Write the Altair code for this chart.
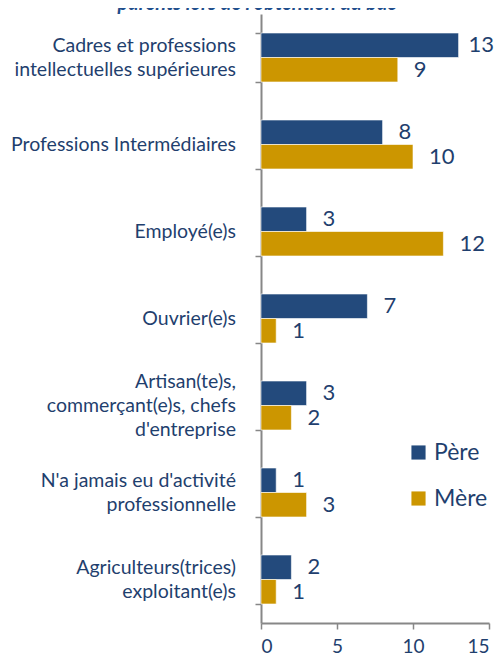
import altair as alt
import pandas as pd

categories = [
    "Cadres et professions|intellectuelles supérieures",
    "Professions Intermédiaires",
    "Employé(e)s",
    "Ouvrier(e)s",
    "Artisan(te)s,|commerçant(e)s, chefs|d'entreprise",
    "N'a jamais eu d'activité|professionnelle",
    "Agriculteurs(trices)|exploitant(e)s",
]
pere = [13, 8, 3, 7, 3, 1, 2]
mere = [9, 10, 12, 1, 2, 3, 1]
series = ["Père", "Mère"]
colors = ["#234A7C", "#CC9600"]
title_text = "parents lors de l'obtention du bac"

rows = []
for c, p, m in zip(categories, pere, mere):
    rows.append({"cat": c, "serie": "Père", "val": p})
    rows.append({"cat": c, "serie": "Mère", "val": m})
df = pd.DataFrame(rows)
cat_df = pd.DataFrame({"cat": categories, "n": [c.count("|") + 1 for c in categories]})

FONT = "Lato"
TXT = "#1F3F6E"
LH = 24

y_enc = alt.Y(
    "cat:N",
    sort=categories,
    scale=alt.Scale(paddingInner=0.437, paddingOuter=0.2185),
    axis=alt.Axis(
        title=None,
        labels=False,
        tickBand="extent",
        tickSize=6,
        tickColor="#878787",
        tickWidth=1.5,
        domainColor="#878787",
        domainWidth=2,
    ),
)
yoff = alt.YOffset("serie:N", sort=series, scale=alt.Scale(paddingInner=0))

x_enc = alt.X(
    "val:Q",
    scale=alt.Scale(domain=[0, 15], nice=False),
    axis=alt.Axis(
        title=None,
        values=[0, 5, 10, 15],
        grid=False,
        labelFont=FONT,
        labelFontSize=19,
        labelColor=TXT,
        labelPadding=8,
        tickSize=6,
        tickColor="#878787",
        tickWidth=1.5,
        domainColor="#878787",
        domainWidth=2,
    ),
)

color_enc = alt.Color(
    "serie:N",
    sort=series,
    scale=alt.Scale(domain=series, range=colors),
    legend=alt.Legend(
        title=None,
        orient="none",
        legendX=146,
        legendY=427,
        symbolType="square",
        symbolSize=200,
        symbolStrokeWidth=0,
        labelFont=FONT,
        labelFontSize=23,
        labelColor=TXT,
        labelOffset=4,
        rowPadding=22,
    ),
)

bars = alt.Chart(df).mark_bar(stroke="white", strokeWidth=0.6).encode(
    x=x_enc, y=y_enc, yOffset=yoff, color=color_enc
)

def value_layer(cond, dx):
    return alt.Chart(df).transform_filter(cond).mark_text(
        align="left", baseline="middle", dx=dx, font=FONT, fontSize=22, color=TXT
    ).encode(x="val:Q", y=alt.Y("cat:N", sort=categories), yOffset=yoff, text="val:Q")

labels_main = value_layer(alt.datum.val < 13, 16)
labels_edge = value_layer(alt.datum.val >= 13, 10)

cat_layers = []
for n in (1, 2, 3):
    cat_layers.append(
        alt.Chart(cat_df).transform_filter(alt.datum.n == n).mark_text(
            align="right", baseline="middle", lineBreak="|", lineHeight=LH,
            dy=-(n - 1) * LH / 2, font=FONT, fontSize=19.5, color=TXT
        ).encode(x=alt.value(-25), y=alt.Y("cat:N", sort=categories), text="cat:N")
    )

title_df = pd.DataFrame({"t": [title_text]})
title = alt.Chart(title_df).mark_text(
    align="center", baseline="alphabetic", font=FONT, fontSize=20,
    fontStyle="italic", fontWeight="bold", color="#1F4E8C"
).encode(x=alt.value(-4), y=alt.value(-4), text="t:N")

chart = alt.layer(bars, labels_main, labels_edge, *cat_layers, title).properties(
    width=228,
    height=609,
    autosize=alt.AutoSizeParams(type="none"),
    padding={"left": 253, "top": 6, "right": 6, "bottom": 33},
).configure_view(stroke=None)

chart.save("out.html", embed_options={"renderer": "svg", "actions": False})
